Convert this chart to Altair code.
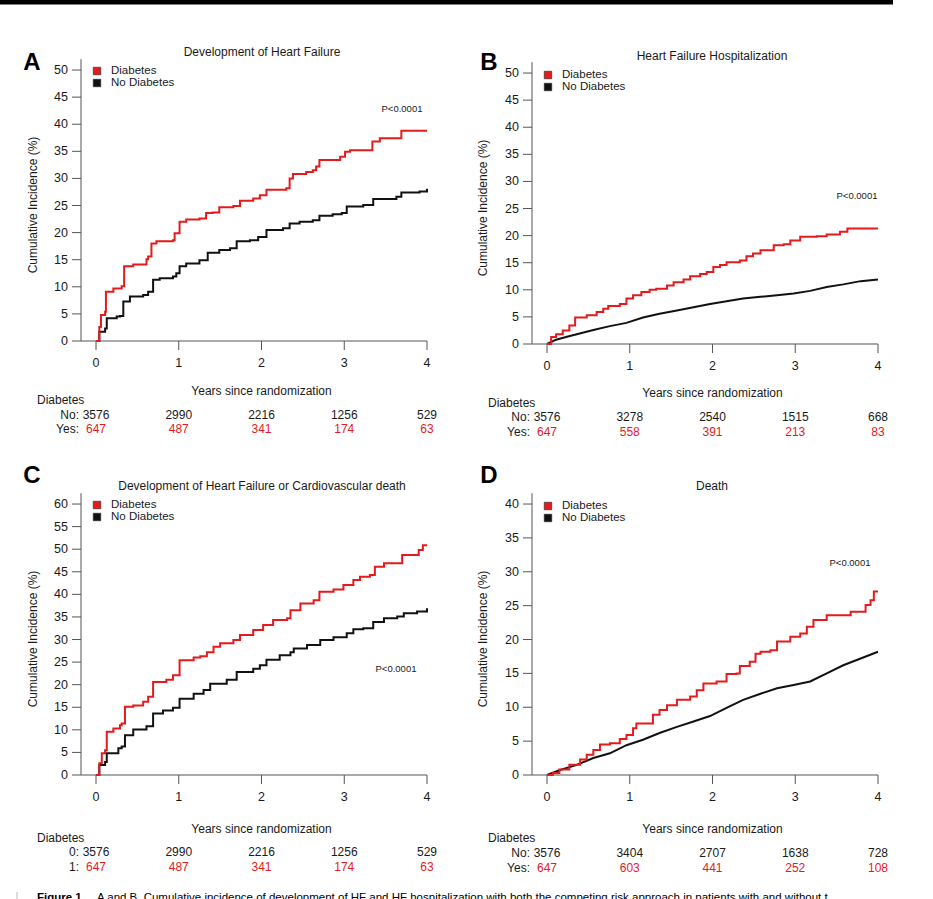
import altair as alt
import pandas as pd

W, H = 933, 899
FONT = "Liberation Sans"
RED = "#e41a1c"
BLACK = "#111111"
AXIS_GRAY = "#555555"
TEXT = "#1a1a1a"

groups = ["Diabetes", "No Diabetes"]
group_colors = [RED, BLACK]
tick_years = [0, 1, 2, 3, 4]

# ---------------- Panel A: Development of Heart Failure ----------------
a_dm_t = [0.00, 0.04, 0.06, 0.11, 0.12, 0.21, 0.31, 0.34, 0.45, 0.61, 0.63, 0.67, 0.73, 0.93, 0.95,
          1.01, 1.09, 1.25, 1.33, 1.41, 1.49, 1.66, 1.74, 1.90, 1.98, 2.06, 2.30, 2.34, 2.38, 2.54,
          2.62, 2.66, 2.70, 2.86, 2.95, 3.01, 3.07, 3.31, 3.34, 3.43, 3.65, 3.69, 4.00]
a_dm_v = [0, 2.6, 4.8, 5.4, 9.1, 9.7, 10.1, 13.8, 14.1, 15.1, 15.6, 18.0, 18.4, 18.6, 19.9,
          22.0, 22.4, 22.6, 23.6, 23.7, 24.7, 24.9, 25.9, 26.3, 26.9, 27.9, 28.2, 30.0, 30.8, 31.2,
          31.5, 32.2, 33.4, 33.4, 34.0, 34.9, 35.2, 35.2, 36.8, 37.4, 37.4, 38.8, 38.8]
a_nd_t = [0.00, 0.04, 0.11, 0.13, 0.25, 0.29, 0.33, 0.41, 0.57, 0.63, 0.69, 0.77, 0.93, 0.97, 1.01,
          1.09, 1.25, 1.35, 1.49, 1.62, 1.70, 1.86, 1.96, 2.06, 2.26, 2.34, 2.46, 2.62, 2.70, 2.86,
          2.97, 3.03, 3.23, 3.35, 3.63, 3.69, 3.91, 4.00]
a_nd_v = [0, 1.7, 2.3, 4.2, 4.5, 4.6, 7.3, 8.2, 8.5, 9.1, 11.3, 11.6, 11.9, 12.5, 13.8,
          14.3, 14.9, 16.3, 16.8, 17.1, 18.4, 18.6, 19.2, 20.5, 20.8, 21.7, 22.0, 22.3, 23.1, 23.4,
          23.6, 24.8, 25.1, 26.2, 26.6, 27.4, 27.6, 28.1]
a_risk_no = [3576, 2990, 2216, 1256, 529]
a_risk_yes = [647, 487, 341, 174, 63]

# ---------------- Panel B: Heart Failure Hospitalization ----------------
b_dm_t = [0.00, 0.05, 0.11, 0.19, 0.27, 0.34, 0.48, 0.60, 0.68, 0.74, 0.88, 0.96, 1.04, 1.14, 1.24,
          1.32, 1.45, 1.53, 1.65, 1.73, 1.85, 1.93, 2.01, 2.09, 2.17, 2.33, 2.41, 2.49, 2.58, 2.74,
          2.86, 2.94, 3.06, 3.26, 3.38, 3.54, 3.63, 4.00]
b_dm_v = [0, 1.3, 1.8, 2.5, 3.4, 4.9, 5.3, 5.9, 6.5, 7.0, 7.4, 8.4, 9.0, 9.6, 10.0,
          10.2, 10.8, 11.4, 11.9, 12.5, 12.9, 13.3, 14.2, 14.6, 15.1, 15.4, 16.2, 16.7, 17.3, 18.2,
          18.4, 19.1, 19.8, 19.9, 20.2, 20.7, 21.3, 21.3]
b_nd_t = [0.00, 0.11, 0.23, 0.36, 0.56, 0.76, 0.96, 1.16, 1.36, 1.57, 1.77, 1.97, 2.17, 2.37, 2.58,
          2.78, 2.98, 3.18, 3.38, 3.58, 3.79, 4.00]
b_nd_v = [0, 0.8, 1.3, 1.8, 2.6, 3.3, 3.9, 4.9, 5.6, 6.2, 6.8, 7.4, 7.9, 8.4, 8.7,
          9.0, 9.3, 9.8, 10.5, 11.0, 11.6, 11.9]
b_risk_no = [3576, 3278, 2540, 1515, 668]
b_risk_yes = [647, 558, 391, 213, 83]

# ---------------- Panel C: HF or Cardiovascular death ----------------
c_dm_t = [0.00, 0.04, 0.07, 0.11, 0.13, 0.21, 0.29, 0.31, 0.35, 0.45, 0.57, 0.63, 0.69, 0.85, 0.93,
          1.01, 1.18, 1.26, 1.34, 1.42, 1.50, 1.66, 1.74, 1.90, 2.02, 2.14, 2.31, 2.35, 2.47, 2.63,
          2.70, 2.87, 2.99, 3.11, 3.19, 3.31, 3.37, 3.48, 3.66, 3.70, 3.86, 3.90, 3.95, 4.00]
c_dm_v = [0, 2.6, 4.8, 5.5, 9.6, 10.3, 11.0, 11.4, 15.1, 15.4, 16.2, 17.3, 20.6, 21.1, 22.1,
          25.4, 26.0, 26.3, 27.2, 28.4, 29.2, 29.9, 31.0, 32.1, 33.2, 34.3, 34.7, 36.5, 38.0, 38.7,
          40.6, 41.1, 42.1, 43.2, 43.9, 44.3, 46.1, 46.9, 46.9, 48.7, 48.7, 49.8, 50.9, 50.9]
c_nd_t = [0.00, 0.04, 0.11, 0.13, 0.27, 0.31, 0.35, 0.45, 0.61, 0.69, 0.81, 0.93, 1.01, 1.18, 1.30,
          1.38, 1.58, 1.70, 1.90, 1.98, 2.06, 2.22, 2.35, 2.39, 2.55, 2.71, 2.87, 3.03, 3.11, 3.23,
          3.35, 3.48, 3.64, 3.72, 3.88, 4.00]
c_nd_v = [0, 2.2, 2.9, 4.8, 5.9, 6.3, 8.8, 10.1, 10.8, 13.6, 14.3, 14.9, 16.9, 18.0, 18.8,
          20.2, 21.1, 22.8, 23.5, 24.3, 25.5, 26.5, 27.2, 28.0, 28.8, 29.9, 30.5, 31.4, 32.3, 32.5,
          33.9, 34.7, 35.1, 35.8, 36.2, 36.9]
c_risk_no = [3576, 2990, 2216, 1256, 529]
c_risk_yes = [647, 487, 341, 174, 63]

# ---------------- Panel D: Death ----------------
d_dm_t = [0.00, 0.07, 0.15, 0.27, 0.40, 0.48, 0.56, 0.64, 0.76, 0.88, 0.96, 1.04, 1.08, 1.24, 1.28,
          1.36, 1.45, 1.57, 1.73, 1.81, 1.89, 2.05, 2.17, 2.29, 2.33, 2.45, 2.52, 2.58, 2.70, 2.78,
          2.94, 3.06, 3.14, 3.22, 3.38, 3.63, 3.67, 3.79, 3.85, 3.91, 3.95, 4.00]
d_dm_v = [0, 0.3, 0.8, 1.5, 2.3, 3.0, 3.7, 4.5, 4.7, 5.3, 5.9, 6.9, 7.6, 7.6, 8.9,
          9.6, 10.3, 11.1, 11.6, 12.5, 13.5, 13.8, 14.9, 15.0, 16.1, 16.7, 17.9, 18.2, 18.4, 19.7,
          20.4, 20.9, 21.9, 22.9, 23.6, 23.6, 24.1, 24.1, 25.1, 25.8, 27.1, 27.1]
d_nd_t = [0.00, 0.15, 0.36, 0.56, 0.76, 0.96, 1.16, 1.36, 1.57, 1.77, 1.97, 2.17, 2.37, 2.58, 2.78,
          2.98, 3.18, 3.38, 3.58, 3.79, 4.00]
d_nd_v = [0, 0.7, 1.5, 2.5, 3.2, 4.4, 5.2, 6.2, 7.1, 7.9, 8.7, 9.9, 11.1, 12.0, 12.8,
          13.3, 13.8, 15.0, 16.2, 17.2, 18.2]
d_risk_no = [3576, 3404, 2707, 1638, 728]
d_risk_yes = [647, 603, 441, 252, 108]

caption_bold = "Figure 1."
caption_rest = ("A and B, Cumulative incidence of development of HF and HF hospitalization with both the "
                "competing risk approach in patients with and without t")

# ---------------- layout (pixels) ----------------
panels = [
    dict(letter="A", letter_xy=(32, 63), title="Development of Heart Failure", title_xy=(262, 52),
         xr=(81, 427), yb=341, yt=59.2, ymax=52, yticks=list(range(0, 55, 5)),
         dm=(a_dm_t, a_dm_v), nd=(a_nd_t, a_nd_v), interp=("step-after", "step-after"),
         legend_xy=(97, 71), p_xy=(402, 109), xtitle_y=391, ytitle_xy=(33, 205),
         risk_labels=("No:", "Yes:"), risk=(a_risk_no, a_risk_yes), risk_head_xy=(37, 400),
         risk_rows_y=(415, 429), risk_label_x=79),
    dict(letter="B", letter_xy=(489, 63), title="Heart Failure Hospitalization", title_xy=(712, 56),
         xr=(532, 878), yb=344, yt=62.2, ymax=52, yticks=list(range(0, 55, 5)),
         dm=(b_dm_t, b_dm_v), nd=(b_nd_t, b_nd_v), interp=("step-after", "linear"),
         legend_xy=(548, 75), p_xy=(857, 196), xtitle_y=393, ytitle_xy=(483, 208),
         risk_labels=("No:", "Yes:"), risk=(b_risk_no, b_risk_yes), risk_head_xy=(488, 403),
         risk_rows_y=(417, 432), risk_label_x=530),
    dict(letter="C", letter_xy=(32, 476), title="Development of Heart Failure or Cardiovascular death",
         title_xy=(262, 486),
         xr=(81, 427), yb=775, yt=493.2, ymax=62.4, yticks=list(range(0, 65, 5)),
         dm=(c_dm_t, c_dm_v), nd=(c_nd_t, c_nd_v), interp=("step-after", "step-after"),
         legend_xy=(97, 505), p_xy=(396, 669), xtitle_y=829, ytitle_xy=(33, 639),
         risk_labels=("0:", "1:"), risk=(c_risk_no, c_risk_yes), risk_head_xy=(37, 838),
         risk_rows_y=(852, 867), risk_label_x=79),
    dict(letter="D", letter_xy=(489, 476), title="Death", title_xy=(712, 486),
         xr=(532, 878), yb=775, yt=493.2, ymax=41.6, yticks=list(range(0, 45, 5)),
         dm=(d_dm_t, d_dm_v), nd=(d_nd_t, d_nd_v), interp=("step-after", "linear"),
         legend_xy=(548, 506), p_xy=(850, 563), xtitle_y=829, ytitle_xy=(483, 639),
         risk_labels=("No:", "Yes:"), risk=(d_risk_no, d_risk_yes), risk_head_xy=(488, 838),
         risk_rows_y=(853, 868), risk_label_x=530),
]

one = pd.DataFrame({"k": [0]})
TICK = 9


def txt(s, x, y, size=12, align="left", baseline="middle", color=TEXT, weight="normal", angle=0):
    kw = dict(fontSize=size, align=align, baseline=baseline, color=color, font=FONT,
              fontWeight=weight, text=s)
    if angle:
        kw["angle"] = angle
    return alt.Chart(one).mark_text(**kw).encode(x=alt.value(x), y=alt.value(y))


color_enc = alt.Color("group:N", scale=alt.Scale(domain=groups, range=group_colors), legend=None)

layers = []
for p in panels:
    x0, x1 = p["xr"]
    yb, yt = p["yb"], p["yt"]
    xs = alt.Scale(domain=[-0.1813, 4], range=[x0, x1], nice=False, zero=False)
    ys = alt.Scale(domain=[0, p["ymax"]], range=[yb, yt], nice=False, zero=False)
    sub = []

    # axis lines (L-shaped frame)
    sub.append(alt.Chart(one).mark_rule(color=AXIS_GRAY, strokeWidth=1).encode(
        x=alt.value(x0), x2=alt.value(x1), y=alt.value(yb)))
    sub.append(alt.Chart(one).mark_rule(color=AXIS_GRAY, strokeWidth=1).encode(
        x=alt.value(x0), y=alt.value(yt), y2=alt.value(yb)))

    # x ticks and labels through the x scale
    xt = pd.DataFrame({"year": tick_years, "lab": [str(v) for v in tick_years]})
    sub.append(alt.Chart(xt).mark_rule(color=AXIS_GRAY, strokeWidth=1).encode(
        x=alt.X("year:Q", scale=xs, axis=None), y=alt.value(yb), y2=alt.value(yb + TICK)))
    sub.append(alt.Chart(xt).mark_text(fontSize=12.5, font=FONT, color=TEXT, align="center",
                                       baseline="middle").encode(
        x=alt.X("year:Q", scale=xs, axis=None), y=alt.value(yb + 22), text="lab:N"))

    # y ticks and labels through the y scale
    yt_df = pd.DataFrame({"v": p["yticks"], "lab": [str(v) for v in p["yticks"]]})
    sub.append(alt.Chart(yt_df).mark_rule(color=AXIS_GRAY, strokeWidth=1).encode(
        y=alt.Y("v:Q", scale=ys, axis=None), x=alt.value(x0 - TICK), x2=alt.value(x0)))
    sub.append(alt.Chart(yt_df).mark_text(fontSize=12.5, font=FONT, color=TEXT, align="right",
                                          baseline="middle").encode(
        y=alt.Y("v:Q", scale=ys, axis=None), x=alt.value(x0 - TICK - 4), text="lab:N"))

    # curves
    series = [("No Diabetes", p["nd"], p["interp"][1]), ("Diabetes", p["dm"], p["interp"][0])]
    for g, (t, v), interp in series:
        df = pd.DataFrame({"year": t, "pct": v, "group": g})
        sub.append(
            alt.Chart(df).mark_line(interpolate=interp, strokeWidth=2).encode(
                x=alt.X("year:Q", scale=xs, axis=None),
                y=alt.Y("pct:Q", scale=ys, axis=None),
                color=color_enc,
            )
        )

    # risk table numbers, placed at the year ticks
    for row_y, counts, col in zip(p["risk_rows_y"], p["risk"], [TEXT, RED]):
        rdf = pd.DataFrame({"year": tick_years, "n": [str(c) for c in counts]})
        sub.append(
            alt.Chart(rdf).mark_text(fontSize=12, font=FONT, color=col, align="center",
                                     baseline="middle").encode(
                x=alt.X("year:Q", scale=xs, axis=None),
                y=alt.value(row_y),
                text="n:N",
            )
        )
    layers.append(alt.layer(*sub))

    # annotations
    layers.append(txt(p["letter"], p["letter_xy"][0], p["letter_xy"][1], size=24, align="center",
                      weight="bold", color="#000000"))
    layers.append(txt(p["title"], p["title_xy"][0], p["title_xy"][1], align="center"))
    layers.append(txt("Years since randomization", (x0 + 15 + x1) / 2, p["xtitle_y"], align="center"))
    layers.append(txt("Cumulative Incidence (%)", p["ytitle_xy"][0], p["ytitle_xy"][1], align="center",
                      angle=270))
    layers.append(txt("P<0.0001", p["p_xy"][0], p["p_xy"][1], size=9.5, align="center"))
    layers.append(txt("Diabetes", p["risk_head_xy"][0], p["risk_head_xy"][1]))
    for lab, ry in zip(p["risk_labels"], p["risk_rows_y"]):
        layers.append(txt(lab, p["risk_label_x"], ry, align="right"))
    lx, ly = p["legend_xy"]
    for i, (g, c) in enumerate(zip(groups, group_colors)):
        layers.append(
            alt.Chart(one).mark_square(size=56, filled=True, fill=c, stroke="#222222",
                                       strokeWidth=0.6, opacity=1).encode(
                x=alt.value(lx), y=alt.value(ly + 12 * i))
        )
        layers.append(txt(g, lx + 14, ly + 12 * i, size=11.5))

# top black bar
layers.append(alt.Chart(one).mark_rect(color="#000000").encode(
    x=alt.value(0), x2=alt.value(893), y=alt.value(0), y2=alt.value(4.5)))
# cropped caption at the bottom
layers.append(alt.Chart(one).mark_rule(color="#bbbbbb", strokeWidth=1).encode(
    x=alt.value(17), y=alt.value(892), y2=alt.value(899)))
layers.append(txt(caption_bold, 37, 892, size=11.5, baseline="top", weight="bold", color="#000000"))
layers.append(txt(caption_rest, 97, 892, size=11.5, baseline="top", color="#000000"))

chart = (
    alt.layer(*layers)
    .resolve_scale(x="independent", y="independent")
    .properties(width=W, height=H, autosize=alt.AutoSizeParams(type="none"), padding=0,
                background="white")
    .configure_view(stroke=None)
)

chart.save("out.html", embed_options={"renderer": "svg", "actions": False})
